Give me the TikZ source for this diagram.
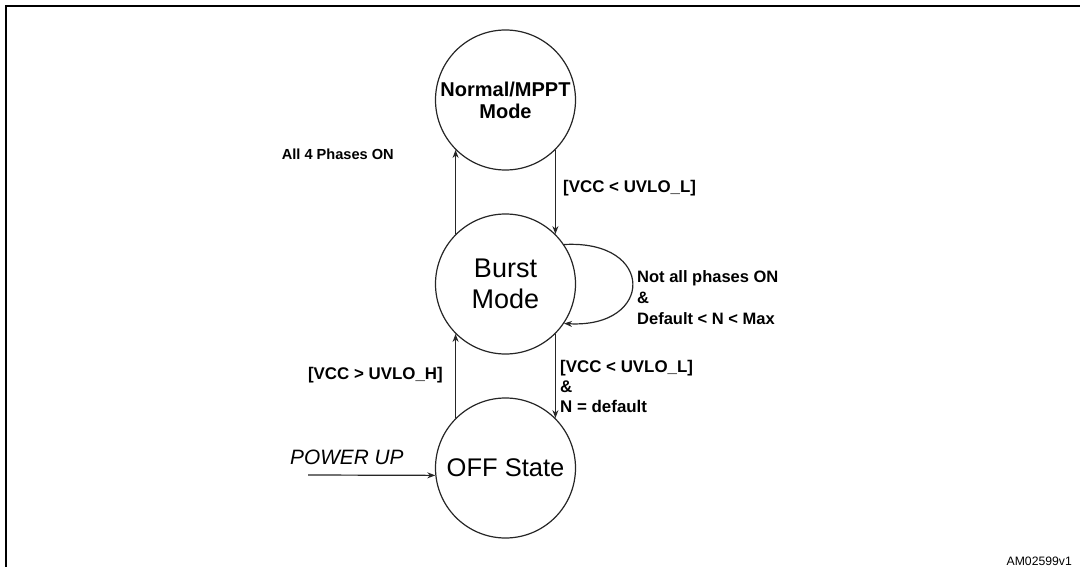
\documentclass[tikz,border=0pt]{standalone}
\usepackage{fontspec}
\setmainfont{Liberation Sans}
\usetikzlibrary{arrows.meta}
\begin{document}
\begin{tikzpicture}[x=1pt,y=-1pt,
  state/.style={circle,draw=black!85,line width=1.2pt,minimum size=140pt,inner sep=0pt,align=center},
  arr/.style={draw=black!85,line width=1.2pt,-{Stealth[length=8pt,width=6pt]}},
  lbl/.style={font=\fontsize{16.9}{20.5}\selectfont\bfseries,inner sep=0pt,align=left},
  frame/.style={line width=2pt,black}]
\useasboundingbox (0,0) rectangle (1080,567);
\draw[frame] (6,567) -- (6,6) -- (1080,6);
% states
\node[state,font=\fontsize{20}{22}\selectfont\bfseries] (n) at (505.5,100) {Normal/MPPT\\Mode};
\node[state,font=\fontsize{27}{31}\selectfont] (b) at (505.5,284) {Burst\\Mode};
\node[state,font=\fontsize{25.5}{30}\selectfont] (o) at (505.5,468) {OFF State};
% transitions
\draw[arr] (b.135) -- (n.-135);
\draw[arr] (n.-45) -- (b.45);
\draw[arr] (b.34) .. controls +(92,-5) and +(90,5) .. (b.-34);
\draw[arr] (o.135) -- (b.-135);
\draw[arr] (b.-45) -- (o.45);
\coordinate (pu) at (308,475);
\draw[arr] (pu) -- (o.186);
% labels
\node[lbl,anchor=east,font=\fontsize{14.6}{18}\selectfont\bfseries] (l1) at (394,154) {All 4 Phases ON};
\node[lbl,anchor=west] (l2) at (563,188) {[VCC < UVLO\_L]};
\node[lbl,anchor=north west,font=\fontsize{16.5}{21}\selectfont\bfseries] (l3) at (637,270) {Not all phases ON\\\&\\Default < N < Max};
\node[lbl,anchor=east] (l4) at (443,375) {[VCC > UVLO\_H]};
\node[lbl,anchor=north west,font=\fontsize{16.9}{20}\selectfont\bfseries] (l5) at (560,360) {[VCC < UVLO\_L]\\\&\\N = default};
\node[anchor=base west,inner sep=0pt,font=\fontsize{20.8}{24}\selectfont\itshape] (l6) at (290,464) {POWER UP};
\node[anchor=base east,inner sep=0pt,font=\fontsize{12.2}{14}\selectfont] (l7) at (1072,565) {AM02599v1};
\end{tikzpicture}
\end{document}
